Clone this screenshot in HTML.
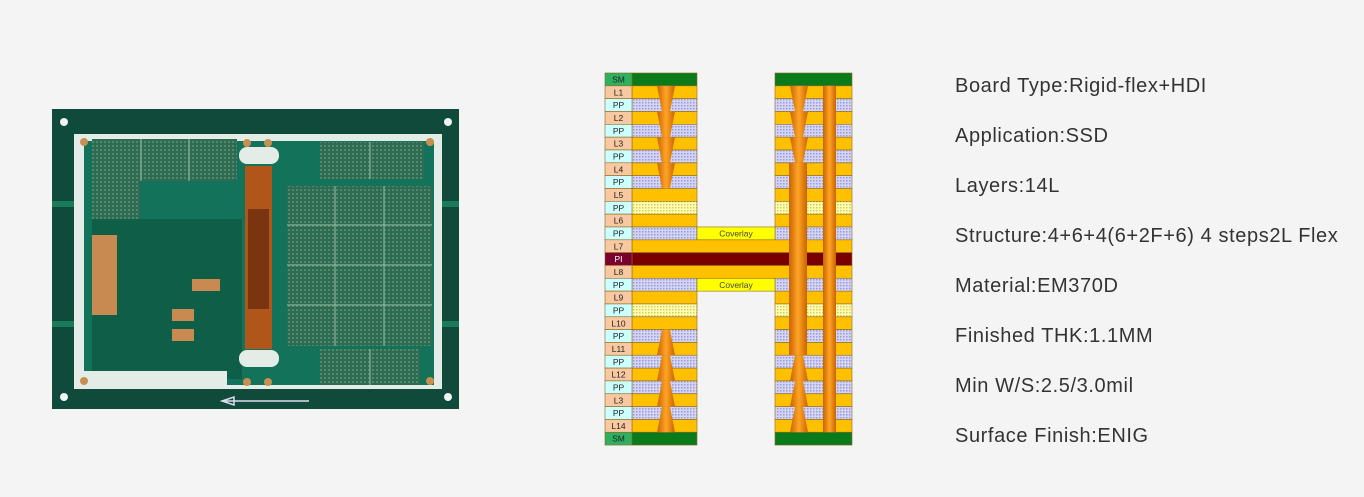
<!DOCTYPE html>
<html><head><meta charset="utf-8"><style>
html,body{margin:0;padding:0;background:#f4f4f4;width:1364px;height:497px;overflow:hidden;position:relative;font-family:"Liberation Sans",sans-serif}
.t{position:absolute;left:955px;font-size:20px;letter-spacing:0.6px;color:#333;white-space:nowrap;line-height:24px}
svg{position:absolute;left:0;top:0}
</style></head><body>
<svg width="1364" height="497" viewBox="0 0 1364 497">
<defs>
<pattern id="pd" width="3" height="3" patternUnits="userSpaceOnUse"><rect width="3" height="3" fill="#d4d4f4"/><rect width="1.5" height="1.5" fill="#9a9ad8"/></pattern>
<pattern id="yd" width="3" height="3" patternUnits="userSpaceOnUse"><rect width="3" height="3" fill="#ffffb0"/><rect width="1.5" height="1.5" fill="#d8c860"/></pattern>
<pattern id="chip" width="4" height="4" patternUnits="userSpaceOnUse"><rect width="4" height="4" fill="#2f6a52"/><rect width="2" height="2" fill="#4f8a6a"/></pattern>
<linearGradient id="vg" x1="0" x2="1" y1="0" y2="0"><stop offset="0" stop-color="#c86400"/><stop offset="0.5" stop-color="#ffa426"/><stop offset="1" stop-color="#c86400"/></linearGradient>
</defs>

<g transform="translate(52,109)">
<rect width="407" height="300" fill="#0f4a3a"/>
<rect x="0" y="92" width="407" height="6" fill="#1a7a5a"/>
<rect x="0" y="212" width="407" height="6" fill="#1a7a5a"/>
<rect x="22" y="25" width="368" height="255" fill="#e4ece8"/>
<rect x="32" y="32" width="350" height="244" fill="#13735a"/>
<rect x="40" y="110" width="150" height="160" fill="#0f5e48"/>
<rect x="25" y="262" width="150" height="18" fill="#e4ece8"/>
<rect x="40" y="30" width="145" height="42" fill="url(#chip)"/>
<rect x="40" y="72" width="48" height="38" fill="url(#chip)"/>
<rect x="268" y="33" width="104" height="37" fill="url(#chip)"/>
<rect x="235" y="77" width="145" height="160" fill="url(#chip)"/>
<rect x="268" y="240" width="100" height="36" fill="url(#chip)"/>
<g stroke="#9ac0a8" stroke-width="1" fill="none">
<path d="M89 30V72M137 30V72M283 77V237M332 77V237M235 116H380M235 156H380M235 196H380M318 33V70M318 240V276"/>
</g>
<rect x="187" y="38" width="40" height="17" rx="8" fill="#e4ece8"/>
<rect x="187" y="241" width="40" height="17" rx="8" fill="#e4ece8"/>
<rect x="193" y="57" width="27" height="183" fill="#b0561a"/>
<rect x="196" y="100" width="21" height="100" fill="#7a3410"/>
<g fill="#c88a50"><rect x="40" y="126" width="25" height="80"/><rect x="140" y="170" width="28" height="12"/><rect x="120" y="200" width="22" height="12"/><rect x="120" y="220" width="22" height="12"/></g>
<g fill="#c89050"><circle cx="32" cy="33" r="4"/><circle cx="378" cy="33" r="4"/><circle cx="32" cy="272" r="4"/><circle cx="378" cy="272" r="4"/><circle cx="195" cy="34" r="4"/><circle cx="216" cy="34" r="4"/><circle cx="195" cy="273" r="4"/><circle cx="216" cy="273" r="4"/></g>
<path d="M170 292H257M170 292l12 -4v8z" stroke="#dde" stroke-width="1.5" fill="none"/>
<g fill="#f0f4f2"><circle cx="12" cy="13" r="4"/><circle cx="396" cy="13" r="4"/><circle cx="12" cy="288" r="4"/><circle cx="396" cy="288" r="4"/></g>
</g>

<g stroke="#8c6a20" stroke-width="0.6">
<rect x="605" y="73" width="27" height="12.83" fill="#2fb060"/><rect x="632" y="73" width="65" height="12.83" fill="#0a7a1a"/><rect x="775" y="73" width="77" height="12.83" fill="#0a7a1a"/>
<g fill="#ffc000">
<rect x="632" y="85.83" width="65" height="12.83"/><rect x="775" y="85.83" width="77" height="12.83"/>
<rect x="632" y="111.49" width="65" height="12.83"/><rect x="775" y="111.49" width="77" height="12.83"/>
<rect x="632" y="137.15" width="65" height="12.83"/><rect x="775" y="137.15" width="77" height="12.83"/>
<rect x="632" y="162.81" width="65" height="12.83"/><rect x="775" y="162.81" width="77" height="12.83"/>
<rect x="632" y="188.47" width="65" height="12.83"/><rect x="775" y="188.47" width="77" height="12.83"/>
<rect x="632" y="214.13" width="65" height="12.83"/><rect x="775" y="214.13" width="77" height="12.83"/>
<rect x="632" y="239.79" width="220" height="12.83"/>
<rect x="632" y="265.45" width="220" height="12.83"/>
<rect x="632" y="291.11" width="65" height="12.83"/><rect x="775" y="291.11" width="77" height="12.83"/>
<rect x="632" y="316.77" width="65" height="12.83"/><rect x="775" y="316.77" width="77" height="12.83"/>
<rect x="632" y="342.43" width="65" height="12.83"/><rect x="775" y="342.43" width="77" height="12.83"/>
<rect x="632" y="368.09" width="65" height="12.83"/><rect x="775" y="368.09" width="77" height="12.83"/>
<rect x="632" y="393.75" width="65" height="12.83"/><rect x="775" y="393.75" width="77" height="12.83"/>
<rect x="632" y="419.41" width="65" height="12.83"/><rect x="775" y="419.41" width="77" height="12.83"/>
</g>
<g fill="url(#pd)">
<rect x="632" y="98.66" width="65" height="12.83"/><rect x="775" y="98.66" width="77" height="12.83"/>
<rect x="632" y="124.32" width="65" height="12.83"/><rect x="775" y="124.32" width="77" height="12.83"/>
<rect x="632" y="149.98" width="65" height="12.83"/><rect x="775" y="149.98" width="77" height="12.83"/>
<rect x="632" y="175.64" width="65" height="12.83"/><rect x="775" y="175.64" width="77" height="12.83"/>
<rect x="632" y="226.96" width="65" height="12.83"/><rect x="775" y="226.96" width="77" height="12.83"/>
<rect x="632" y="278.28" width="65" height="12.83"/><rect x="775" y="278.28" width="77" height="12.83"/>
<rect x="632" y="329.6" width="65" height="12.83"/><rect x="775" y="329.6" width="77" height="12.83"/>
<rect x="632" y="355.26" width="65" height="12.83"/><rect x="775" y="355.26" width="77" height="12.83"/>
<rect x="632" y="380.92" width="65" height="12.83"/><rect x="775" y="380.92" width="77" height="12.83"/>
<rect x="632" y="406.58" width="65" height="12.83"/><rect x="775" y="406.58" width="77" height="12.83"/>
</g>
<g fill="url(#yd)">
<rect x="632" y="201.3" width="65" height="12.83"/><rect x="775" y="201.3" width="77" height="12.83"/>
<rect x="632" y="303.94" width="65" height="12.83"/><rect x="775" y="303.94" width="77" height="12.83"/>
</g>
<rect x="632" y="252.62" width="220" height="12.83" fill="#7a0000"/>
<rect x="697" y="226.96" width="78" height="12.83" fill="#ffff00"/>
<rect x="697" y="278.28" width="78" height="12.83" fill="#ffff00"/>
<rect x="605" y="432.24" width="27" height="12.83" fill="#2fb060"/><rect x="632" y="432.24" width="65" height="12.83" fill="#0a7a1a"/><rect x="775" y="432.24" width="77" height="12.83" fill="#0a7a1a"/>
<g>
<rect x="605" y="85.83" width="27" height="12.83" fill="#f8c8a0"/><rect x="605" y="98.66" width="27" height="12.83" fill="#ccffff"/>
<rect x="605" y="111.49" width="27" height="12.83" fill="#f8c8a0"/><rect x="605" y="124.32" width="27" height="12.83" fill="#ccffff"/>
<rect x="605" y="137.15" width="27" height="12.83" fill="#f8c8a0"/><rect x="605" y="149.98" width="27" height="12.83" fill="#ccffff"/>
<rect x="605" y="162.81" width="27" height="12.83" fill="#f8c8a0"/><rect x="605" y="175.64" width="27" height="12.83" fill="#ccffff"/>
<rect x="605" y="188.47" width="27" height="12.83" fill="#f8c8a0"/><rect x="605" y="201.3" width="27" height="12.83" fill="#ccffff"/>
<rect x="605" y="214.13" width="27" height="12.83" fill="#f8c8a0"/><rect x="605" y="226.96" width="27" height="12.83" fill="#ccffff"/>
<rect x="605" y="239.79" width="27" height="12.83" fill="#f8c8a0"/><rect x="605" y="252.62" width="27" height="12.83" fill="#7a0030"/>
<rect x="605" y="265.45" width="27" height="12.83" fill="#f8c8a0"/><rect x="605" y="278.28" width="27" height="12.83" fill="#ccffff"/>
<rect x="605" y="291.11" width="27" height="12.83" fill="#f8c8a0"/><rect x="605" y="303.94" width="27" height="12.83" fill="#ccffff"/>
<rect x="605" y="316.77" width="27" height="12.83" fill="#f8c8a0"/><rect x="605" y="329.6" width="27" height="12.83" fill="#ccffff"/>
<rect x="605" y="342.43" width="27" height="12.83" fill="#f8c8a0"/><rect x="605" y="355.26" width="27" height="12.83" fill="#ccffff"/>
<rect x="605" y="368.09" width="27" height="12.83" fill="#f8c8a0"/><rect x="605" y="380.92" width="27" height="12.83" fill="#ccffff"/>
<rect x="605" y="393.75" width="27" height="12.83" fill="#f8c8a0"/><rect x="605" y="406.58" width="27" height="12.83" fill="#ccffff"/>
<rect x="605" y="419.41" width="27" height="12.83" fill="#f8c8a0"/>
</g>
</g>
<g fill="url(#vg)">
<polygon points="657,85.83 675,85.83 670,111.49 662,111.49"/>
<polygon points="657,111.49 675,111.49 670,137.15 662,137.15"/>
<polygon points="657,137.15 675,137.15 670,162.81 662,162.81"/>
<polygon points="657,162.81 675,162.81 670,188.47 662,188.47"/>
<polygon points="662,329.6 670,329.6 675,355.26 657,355.26"/>
<polygon points="662,355.26 670,355.26 675,380.92 657,380.92"/>
<polygon points="662,380.92 670,380.92 675,406.58 657,406.58"/>
<polygon points="662,406.58 670,406.58 675,432.24 657,432.24"/>
<polygon points="790,85.83 808,85.83 803,111.49 795,111.49"/>
<polygon points="790,111.49 808,111.49 803,137.15 795,137.15"/>
<polygon points="790,137.15 808,137.15 803,162.81 795,162.81"/>
<rect x="789" y="162.81" width="18" height="192.45"/>
<polygon points="795,355.26 803,355.26 808,380.92 790,380.92"/>
<polygon points="795,380.92 803,380.92 808,406.58 790,406.58"/>
<polygon points="795,406.58 803,406.58 808,432.24 790,432.24"/>
<rect x="823" y="85.83" width="13" height="346.41"/>
</g>
<g font-family="Liberation Sans,sans-serif" font-size="8.5" text-anchor="middle" fill="#222">
<text x="618.5" y="82.5">SM</text><text x="618.5" y="95.3">L1</text><text x="618.5" y="108.1">PP</text><text x="618.5" y="121">L2</text><text x="618.5" y="133.8">PP</text><text x="618.5" y="146.6">L3</text><text x="618.5" y="159.5">PP</text><text x="618.5" y="172.3">L4</text><text x="618.5" y="185.1">PP</text><text x="618.5" y="198">L5</text><text x="618.5" y="210.8">PP</text><text x="618.5" y="223.6">L6</text><text x="618.5" y="236.5">PP</text><text x="618.5" y="249.3">L7</text><text x="618.5" y="262.1" fill="#fff">PI</text><text x="618.5" y="275">L8</text><text x="618.5" y="287.8">PP</text><text x="618.5" y="300.6">L9</text><text x="618.5" y="313.4">PP</text><text x="618.5" y="326.3">L10</text><text x="618.5" y="339.1">PP</text><text x="618.5" y="351.9">L11</text><text x="618.5" y="364.8">PP</text><text x="618.5" y="377.6">L12</text><text x="618.5" y="390.4">PP</text><text x="618.5" y="403.3">L3</text><text x="618.5" y="416.1">PP</text><text x="618.5" y="428.9">L14</text><text x="618.5" y="441.7">SM</text>
<text x="736" y="236.5" fill="#444">Coverlay</text><text x="736" y="287.8" fill="#444">Coverlay</text>
</g>
</svg>
<div class="t" style="top:74px">Board Type:Rigid-flex+HDI</div>
<div class="t" style="top:124px">Application:SSD</div>
<div class="t" style="top:174px">Layers:14L</div>
<div class="t" style="top:224px">Structure:4+6+4(6+2F+6) 4 steps2L Flex</div>
<div class="t" style="top:274px">Material:EM370D</div>
<div class="t" style="top:324px">Finished THK:1.1MM</div>
<div class="t" style="top:374px">Min W/S:2.5/3.0mil</div>
<div class="t" style="top:424px">Surface Finish:ENIG</div>
</body></html>
